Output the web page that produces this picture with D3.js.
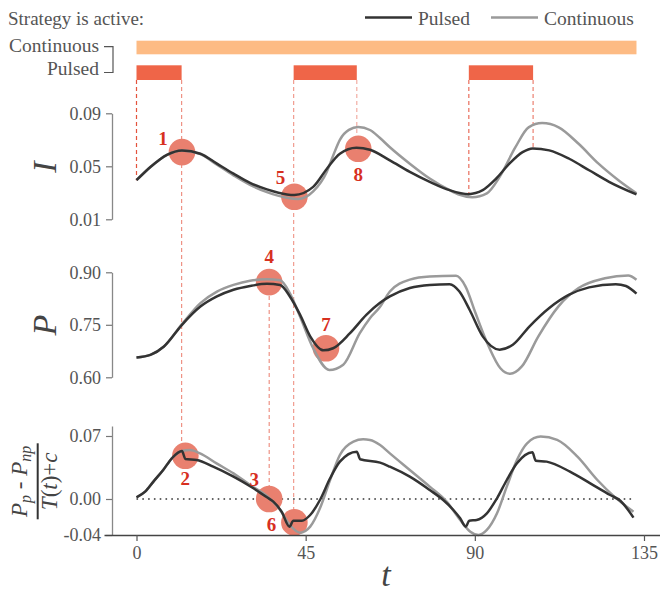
<!DOCTYPE html>
<html>
<head>
<meta charset="utf-8">
<script src="https://cdn.jsdelivr.net/npm/d3@7"></script>
<style>
  body { margin: 0; background: #fff; }
</style>
</head>
<body>
<div id="chart"></div>
<script>
// ---- data ----
// panel 1: I
var tIPulsed = [0, 3.7, 8.1, 12.1, 17, 21.4, 25.8, 30.2, 34.7, 40, 42, 47, 50.6, 54.1, 58.5, 62.1, 67.4, 72.7, 78, 83.3, 88.3, 92.1, 95.7, 99.2, 102.7, 105.4, 109.8, 115.1, 120.4, 125.7, 133];
var iPulsed = [0.0395, 0.0495, 0.0587, 0.062, 0.0595, 0.052, 0.0445, 0.0375, 0.0326, 0.0288, 0.0284, 0.0345, 0.048, 0.0595, 0.064, 0.0625, 0.0545, 0.0458, 0.0383, 0.032, 0.029, 0.032, 0.0408, 0.052, 0.0607, 0.0635, 0.062, 0.0557, 0.047, 0.0383, 0.0288];
var tICont = [0, 3.7, 8.1, 12.1, 17, 21.4, 25.8, 30.2, 34.7, 40, 43, 47, 50.6, 52.3, 54.1, 56.5, 59, 62.1, 64.7, 67.4, 72.7, 78, 83.3, 86, 89.3, 93.2, 96.6, 100.8, 104.3, 107.9, 112.3, 117.6, 122.9, 128.2, 133];
var iCont = [0.0395, 0.0495, 0.0587, 0.062, 0.0592, 0.0512, 0.0432, 0.036, 0.0305, 0.0262, 0.0253, 0.031, 0.0457, 0.058, 0.07, 0.0775, 0.0796, 0.0774, 0.0715, 0.0644, 0.052, 0.0408, 0.032, 0.0285, 0.0266, 0.0296, 0.042, 0.0644, 0.0794, 0.0826, 0.0794, 0.067, 0.052, 0.0395, 0.0296];

// panel 2: P
var tPPulsed = [0, 3.7, 7.3, 12.1, 17, 21.4, 25.8, 30.2, 34.7, 38.2, 40.8, 43.5, 46.2, 49.7, 52.3, 56.8, 61.2, 64.7, 67.4, 72.7, 78, 83.3, 85.9, 88.6, 92.1, 96.6, 100.1, 104.5, 109.8, 115.1, 120.4, 127.5, 130.2, 133];
var pPulsed = [0.6566, 0.664, 0.688, 0.75, 0.802, 0.831, 0.85, 0.861, 0.867, 0.864, 0.831, 0.779, 0.717, 0.677, 0.683, 0.726, 0.779, 0.812, 0.831, 0.855, 0.864, 0.866, 0.845, 0.793, 0.717, 0.679, 0.693, 0.745, 0.798, 0.836, 0.857, 0.866, 0.861, 0.839];
var tPCont = [0, 3.7, 7.3, 12.1, 17, 21.4, 25.8, 30.2, 34.7, 38.2, 40.8, 43.5, 47, 51.3, 55, 59.4, 62.1, 64.7, 67.4, 72.7, 78, 85, 87.5, 90.2, 93.7, 96.8, 99.4, 102.5, 106.9, 112.2, 117.6, 124.6, 130.8, 133];
var pCont = [0.6566, 0.664, 0.688, 0.752, 0.812, 0.845, 0.864, 0.876, 0.88, 0.877, 0.84, 0.774, 0.683, 0.621, 0.636, 0.726, 0.769, 0.8, 0.845, 0.879, 0.888, 0.89, 0.86, 0.783, 0.688, 0.626, 0.61, 0.631, 0.717, 0.802, 0.855, 0.883, 0.891, 0.879];

// panel 3: (Pp - Pnp) / (T(t) + c)
var tDPulsed = [0, 2.3, 4.5, 7.1, 9.4, 12.1, 13, 16, 20.4, 25.8, 31.1, 34.7, 36.4, 38.6, 40.7, 41.7, 44, 46.2, 48.8, 51.5, 54.1, 58.6, 59.5, 64.8, 67.4, 72.7, 78, 81.6, 84.3, 86.1, 87.6, 88.5, 90.5, 93.2, 95.9, 98.5, 101.2, 105.3, 106.2, 109.1, 115.3, 120.7, 126, 128.7, 132.2];
var dPulsed = [0.0019, 0.0081, 0.0193, 0.0322, 0.0452, 0.0533, 0.0444, 0.0433, 0.0359, 0.0248, 0.0119, 0.0019, -0.003, -0.0141, -0.0307, -0.0241, -0.0241, -0.0178, -0.0011, 0.023, 0.0415, 0.0526, 0.0441, 0.0404, 0.0359, 0.0248, 0.01, -0.0011, -0.0122, -0.0215, -0.0307, -0.0241, -0.0233, -0.0159, 0.0008, 0.0211, 0.0396, 0.0519, 0.0426, 0.0415, 0.0304, 0.0174, 0.0044, -0.0019, -0.0207];
var tDCont = [0, 2.3, 4.5, 7.1, 9.4, 12.1, 14.2, 16.9, 21.3, 25.8, 30.2, 34.7, 38.2, 40.8, 43.5, 46.2, 48.8, 51.5, 54.1, 57.7, 60.3, 62.1, 64.8, 67.4, 72.7, 78, 82.5, 86.1, 88.8, 91, 93.2, 95.9, 98.5, 101.2, 103.9, 107.5, 111.9, 117.3, 122.6, 127.1, 132.2];
var dCont = [0.0019, 0.0081, 0.0193, 0.0322, 0.0452, 0.0533, 0.0544, 0.0507, 0.0396, 0.0285, 0.0156, 0.0033, -0.0122, -0.0289, -0.0374, -0.0307, -0.0104, 0.0211, 0.0489, 0.0637, 0.0663, 0.0656, 0.06, 0.0507, 0.0322, 0.0137, -0.003, -0.0233, -0.0363, -0.04, -0.0344, -0.0159, 0.0137, 0.0433, 0.0619, 0.0693, 0.0656, 0.047, 0.0211, 0.0026, -0.0141];

// when each strategy is active
var pulseStart = [0, 41.8, 88.4];
var pulseEnd = [12, 58.6, 105.5];
var contStart = 0, contEnd = 133;

// numbered markers
var markerIds = [1, 2, 3, 4, 5, 6, 7, 8];
var markerPanels = ["I", "D", "D", "P", "I", "D", "P", "I"];
var markerT = [12.1, 13, 35.3, 35.3, 42, 42, 50.4, 59];
var markerV = [0.0607, 0.048, 0.0, 0.872, 0.027, -0.026, 0.683, 0.0632];

// dashed guides: t, where they start (panel/value, "bar" = pulse bar) and end
var guideT = [0, 12, 35.3, 41.8, 58.6, 88.4, 105.5];
var guideFromPanel = ["bar", "bar", "P", "bar", "bar", "bar", "bar"];
var guideFromV = [null, null, 0.872, null, null, null, null];
var guideToPanel = ["I", "D", "D", "D", "I", "I", "I"];
var guideToV = [0.0395, 0.048, 0.0, -0.026, 0.0632, 0.029, 0.0635];

var xTicks = [0, 45, 90, 135];
var iTicks = [0.01, 0.05, 0.09];
var pTicks = [0.60, 0.75, 0.90];
var dTicks = [-0.04, 0.00, 0.07];

// ---- layout ----
var W = 660, H = 593;
var spineX = 112;
var serif = "'Liberation Serif', 'Times New Roman', serif";

var svg = d3.select("#chart").append("svg")
    .attr("width", W)
    .attr("height", H)
    .style("background-color", "#fff");

var x = d3.scaleLinear().domain([0, 135]).range([136.5, 644]);
var yI = d3.scaleLinear().domain([0.01, 0.09]).range([219.3, 113.3]);
var yP = d3.scaleLinear().domain([0.60, 0.90]).range([377.3, 272.3]);
var yD = d3.scaleLinear().domain([-0.04, 0.0811]).range([535, 426]);
var yOf = {I: yI, P: yP, D: yD};
var barBottom = 80;

var pulsedColor = "#333333", contColor = "#9a9a9a";
var labelRed = "#d7301f";
var textGray = "#555";

// plain hyphen for negatives, like the original
var fmt2 = function(d){ return d3.format(".2f")(d).replace("\u2212", "-"); };

// header text
svg.append("text").attr("x", 8).attr("y", 25)
    .attr("font-size", 19).attr("fill", textGray)
    .text("Strategy is active:");

// legend
var legend = [{name: "Pulsed", c: pulsedColor, x: 365}, {name: "Continuous", c: contColor, x: 491}];
legend.forEach(function(d){
    svg.append("line").attr("x1", d.x).attr("x2", d.x + 47).attr("y1", 17.5).attr("y2", 17.5)
        .attr("stroke", d.c).attr("stroke-width", 2.6);
    svg.append("text").attr("x", d.x + 53).attr("y", 25)
        .attr("font-size", 19.5).attr("fill", textGray).text(d.name);
});

// strategy labels + bracket
svg.append("text").attr("x", 99).attr("y", 52).attr("text-anchor", "end")
    .attr("font-size", 19.5).attr("fill", textGray).text("Continuous");
svg.append("text").attr("x", 99).attr("y", 75).attr("text-anchor", "end")
    .attr("font-size", 19.5).attr("fill", textGray).text("Pulsed");
svg.append("path").attr("d", "M104,46.7H113V72.5H104")
    .attr("fill", "none").attr("stroke", "#555").attr("stroke-width", 1.2);

// activity bars
svg.append("rect")
    .attr("x", x(contStart)).attr("y", 40.7)
    .attr("width", x(contEnd) - x(contStart)).attr("height", 13.6)
    .attr("fill", "#fdbb84");
svg.selectAll(".pulse")
    .data(pulseStart)
    .enter()
    .append("rect")
    .attr("class", "pulse")
    .attr("x", function(d){ return x(d); })
    .attr("y", 65.3)
    .attr("width", function(d, i){ return x(pulseEnd[i]) - x(d); })
    .attr("height", barBottom - 65.3)
    .attr("fill", "#ef6548");

// dashed guides
var guideOpacity = [0.95, 0.6, 0.6, 0.55, 0.45, 0.8, 0.7];
guideT.forEach(function(t, i){
    var yStart = guideFromPanel[i] === "bar" ? barBottom : yOf[guideFromPanel[i]](guideFromV[i]);
    var yEnd = yOf[guideToPanel[i]](guideToV[i]);
    svg.append("line")
        .attr("x1", x(t)).attr("x2", x(t))
        .attr("y1", yStart).attr("y2", yEnd)
        .attr("stroke", "#e34a33")
        .attr("stroke-opacity", guideOpacity[i])
        .attr("stroke-width", 1.2)
        .attr("stroke-dasharray", "4,3");
});

// zero reference line in panel 3
svg.append("line")
    .attr("x1", x(0)).attr("x2", x(132))
    .attr("y1", yD(0)).attr("y2", yD(0))
    .attr("stroke", "#333").attr("stroke-width", 1.6)
    .attr("stroke-dasharray", "1.6,4.2");

// markers (under the lines)
svg.selectAll(".marker")
    .data(markerIds)
    .enter()
    .append("circle")
    .attr("class", "marker")
    .attr("cx", function(d, i){ return x(markerT[i]); })
    .attr("cy", function(d, i){ return yOf[markerPanels[i]](markerV[i]); })
    .attr("r", 13.3)
    .attr("fill", "#e9806f");

// lines
var series = [
    {t: tICont, v: iCont, y: yI, c: contColor},
    {t: tIPulsed, v: iPulsed, y: yI, c: pulsedColor},
    {t: tPCont, v: pCont, y: yP, c: contColor},
    {t: tPPulsed, v: pPulsed, y: yP, c: pulsedColor},
    {t: tDCont, v: dCont, y: yD, c: contColor},
    {t: tDPulsed, v: dPulsed, y: yD, c: pulsedColor}
];
series.forEach(function(s){
    var line = d3.line()
        .x(function(d){ return x(d); })
        .y(function(d, i){ return s.y(s.v[i]); })
        .curve(d3.curveMonotoneX);
    svg.append("path")
        .datum(s.t)
        .attr("d", line)
        .style("fill", "none")
        .style("stroke", s.c)
        .style("stroke-width", 2.5)
        .style("stroke-linejoin", "round");
});

// marker numbers
var labelOffset = {1: [-19, -14], 2: [0, 23], 3: [-15, -20], 4: [0, -26], 5: [-14, -19], 6: [-23, 2], 7: [0, -24], 8: [0, 26]};
svg.selectAll(".markerLabel")
    .data(markerIds)
    .enter()
    .append("text")
    .attr("class", "markerLabel")
    .attr("x", function(d, i){ return x(markerT[i]) + labelOffset[d][0]; })
    .attr("y", function(d, i){ return yOf[markerPanels[i]](markerV[i]) + labelOffset[d][1]; })
    .attr("dy", "0.35em")
    .attr("text-anchor", "middle")
    .attr("font-size", 19)
    .attr("font-weight", "bold")
    .attr("fill", labelRed)
    .text(function(d){ return d; });

// y axes
function leftAxis(scale, ticks){
    var g = svg.append("g")
        .attr("transform", "translate(" + spineX + ",0)")
        .call(d3.axisLeft(scale).tickValues(ticks).tickFormat(fmt2).tickSize(6).tickSizeOuter(0).tickPadding(5));
    g.select(".domain").attr("stroke", "#888").attr("stroke-width", 1.3);
    g.selectAll(".tick line").attr("stroke", "#777").attr("stroke-width", 1.2);
    g.selectAll(".tick text").attr("font-size", 18).attr("fill", textGray);
    return g;
}
leftAxis(yI, iTicks);
leftAxis(yP, pTicks);
leftAxis(yD, dTicks);

// x axis
var xAxisScale = x.copy().domain([x.invert(104), x.invert(660)]).range([104, 660]);
var gx = svg.append("g")
    .attr("transform", "translate(0," + 535 + ")")
    .call(d3.axisBottom(xAxisScale).tickValues(xTicks).tickSize(6).tickSizeOuter(0).tickPadding(5));
gx.select(".domain").attr("stroke", "#444").attr("stroke-width", 1.3);
gx.selectAll(".tick line").attr("stroke", "#555").attr("stroke-width", 1.2);
gx.selectAll(".tick text").attr("font-size", 18).attr("fill", textGray);

// axis titles
svg.append("text")
    .attr("transform", "translate(56,167) rotate(-90)")
    .attr("text-anchor", "middle")
    .attr("font-size", 34).attr("font-style", "italic").attr("fill", "#444")
    .text("I");
svg.append("text")
    .attr("transform", "translate(56,325) rotate(-90)")
    .attr("text-anchor", "middle")
    .attr("font-size", 34).attr("font-style", "italic").attr("fill", "#444")
    .text("P");

var frac = svg.append("g").attr("transform", "translate(37.7,481.3) rotate(-90)");
frac.append("line").attr("x1", -38).attr("x2", 38)
    .attr("stroke", "#333").attr("stroke-width", 2);
var num = frac.append("text").attr("y", -11).attr("text-anchor", "middle")
    .attr("font-size", 23).attr("fill", "#444");
num.append("tspan").attr("font-style", "italic").text("P");
num.append("tspan").attr("font-style", "italic").attr("font-size", 16).attr("dy", 4).text("p");
num.append("tspan").attr("dy", -4).text(" - ");
num.append("tspan").attr("font-style", "italic").text("P");
num.append("tspan").attr("font-style", "italic").attr("font-size", 16).attr("dy", 4).text("np");
var den = frac.append("text").attr("y", 19).attr("text-anchor", "middle")
    .attr("font-size", 23).attr("fill", "#444");
den.append("tspan").attr("font-style", "italic").text("T");
den.append("tspan").text("(");
den.append("tspan").attr("font-style", "italic").text("t");
den.append("tspan").text(")+");
den.append("tspan").attr("font-style", "italic").text("c");

svg.append("text")
    .attr("x", 386).attr("y", 586)
    .attr("text-anchor", "middle")
    .attr("font-size", 34).attr("font-style", "italic").attr("fill", "#444")
    .text("t");

// one serif face for every text on the page
svg.selectAll("text").style("font-family", serif);
</script>
</body>
</html>
